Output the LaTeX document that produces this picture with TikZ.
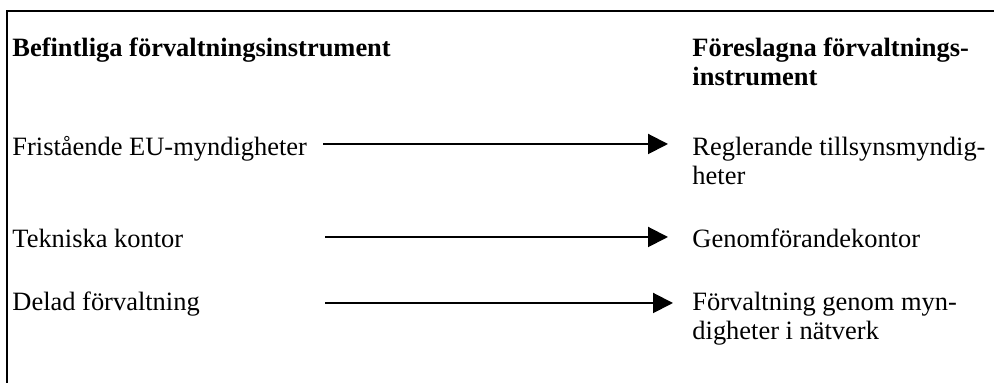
\documentclass[tikz,border=0pt]{standalone}
\usepackage{fontspec}
\setmainfont{Liberation Serif}
\usetikzlibrary{positioning, calc, arrows.meta}

\begin{document}
\begin{tikzpicture}[x=0.45pt, y=-0.45pt,
	every node/.style={inner sep=0pt, anchor=base west, align=left, font=\fontsize{11.9}{13.05}\selectfont},
	head/.style={font=\fontsize{11.9}{13.05}\selectfont\bfseries},
	flow/.style={line width=0.9pt, -{Triangle[length=9pt, width=9pt]}}]
	\useasboundingbox (0, 0) rectangle (994, 383);
	\draw[line width=0.9pt] (7, 383) -- (7, 11) -- (994, 11);

	\node[head] (old) at (12, 57) {Befintliga förvaltningsinstrument};
	\node[head] (new) at (692, 86) {Föreslagna förvaltnings-\\instrument};

	\node (old1) at (12, 156) {Fristående EU-myndigheter};
	\node (old2) at (12, 248) {Tekniska kontor};
	\node (old3) at (12, 311) {Delad förvaltning};

	\node (new1) at (692, 185) {Reglerande tillsynsmyndig-\\heter};
	\node (new2) at (692, 248) {Genomförandekontor};
	\node (new3) at (692, 340) {Förvaltning genom myn-\\digheter i nätverk};

	\coordinate (a1) at (323, 144);
	\coordinate (a2) at (325, 237);
	\coordinate (a3) at (325, 303);

	\draw[flow] (a1) -- ($(new1.west |- a1) + (-24, 0)$);
	\draw[flow] (a2) -- ($(new2.west |- a2) + (-24, 0)$);
	\draw[flow] (a3) -- ($(new3.west |- a3) + (-19, 0)$);
\end{tikzpicture}
\end{document}
